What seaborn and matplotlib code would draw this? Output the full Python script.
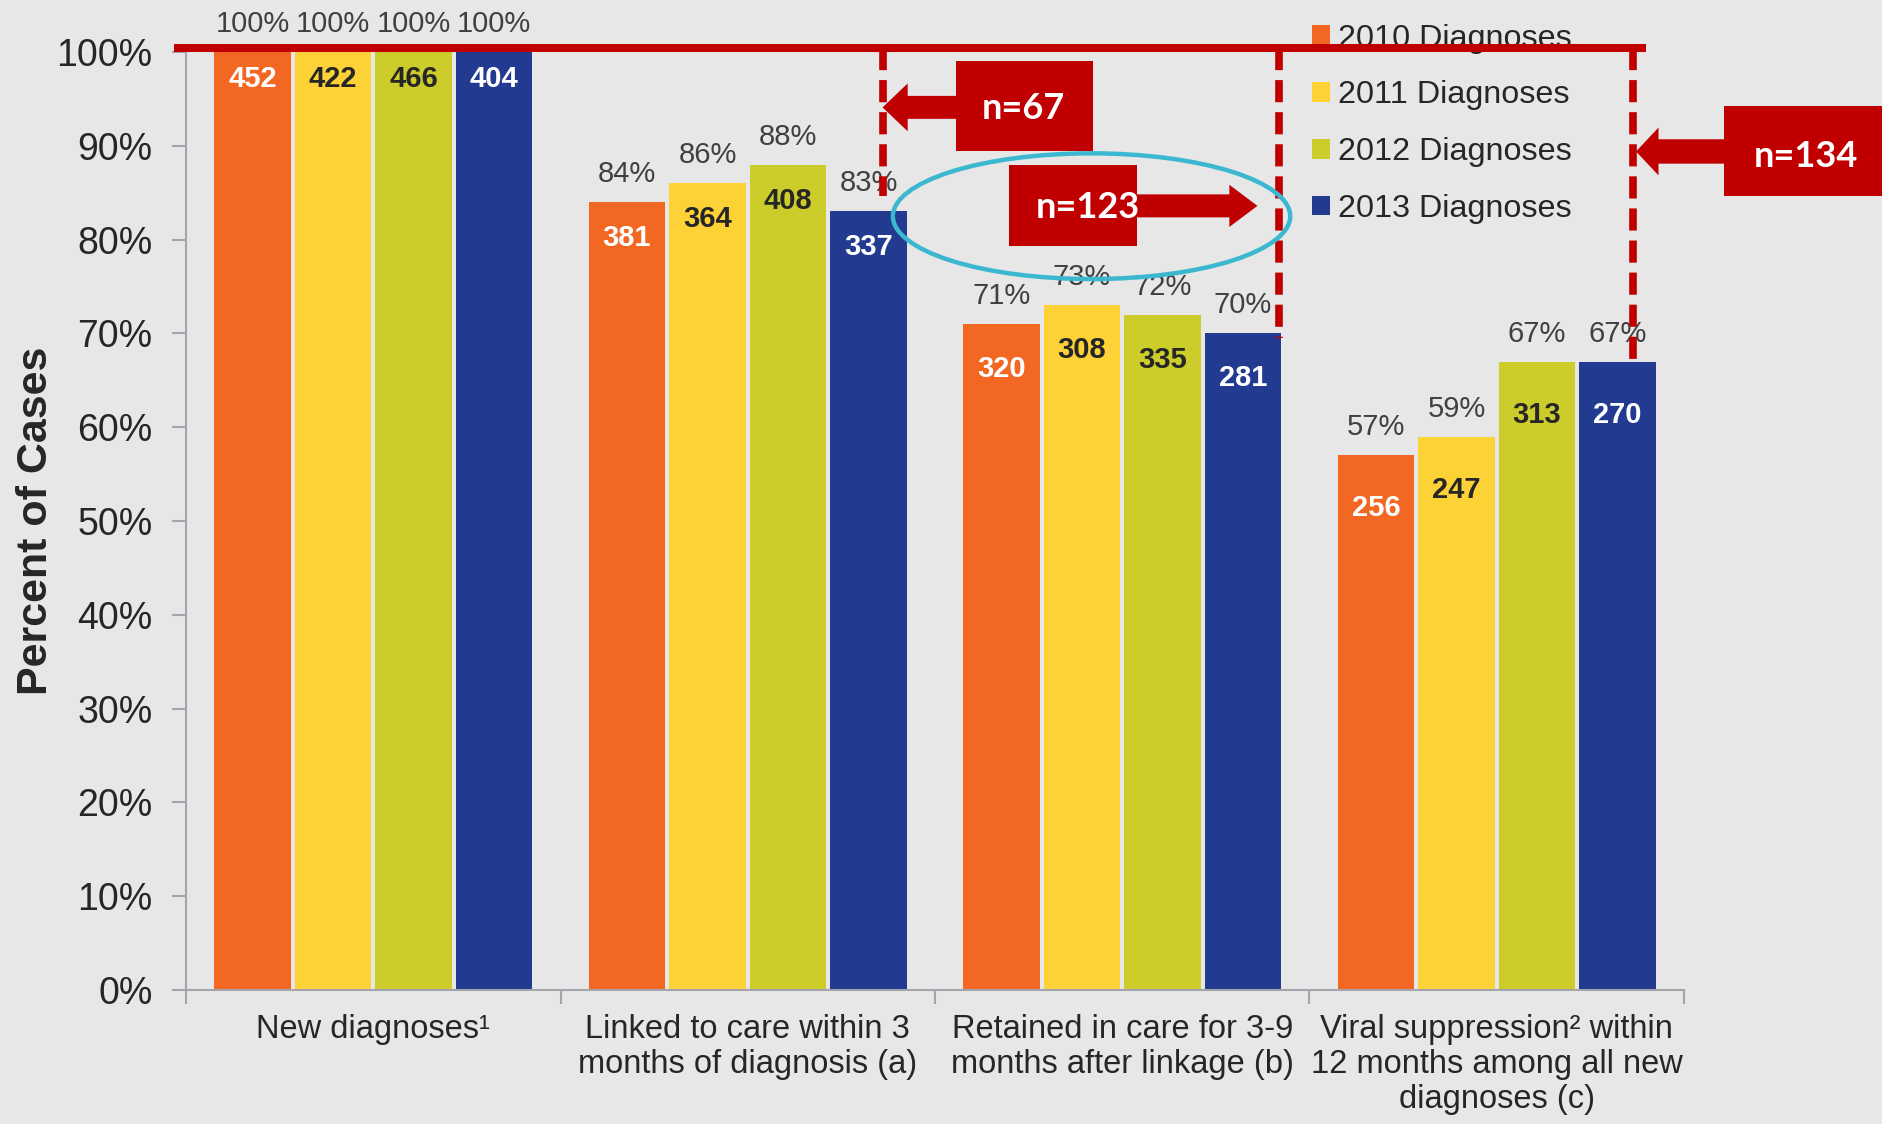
import matplotlib
matplotlib.use("Agg")
import matplotlib.pyplot as plt
from matplotlib.patches import Rectangle, Ellipse, FancyArrow
from matplotlib.ticker import MultipleLocator, FuncFormatter
import seaborn as sns
import pandas as pd

# ---- data -------------------------------------------------------------
stages = [
    "New diagnoses\u00b9",
    "Linked to care within 3\nmonths of diagnosis (a)",
    "Retained in care for 3-9\nmonths after linkage (b)",
    "Viral suppression\u00b2 within\n12 months among all new\ndiagnoses (c)",
]
years = ["2010 Diagnoses", "2011 Diagnoses", "2012 Diagnoses", "2013 Diagnoses"]

pct_2010 = [100, 84, 71, 57]
pct_2011 = [100, 86, 73, 59]
pct_2012 = [100, 88, 72, 67]
pct_2013 = [100, 83, 70, 67]

n_2010 = [452, 381, 320, 256]
n_2011 = [422, 364, 308, 247]
n_2012 = [466, 408, 335, 313]
n_2013 = [404, 337, 281, 270]

callout_labels = ["n=67", "n=123", "n=134"]

# ---- styling ----------------------------------------------------------
BG = "#E7E7E7"
RED = "#C00000"
CYAN = "#3BB7D0"
GRAY = "#A4A4AC"
TEXT = "#262626"
colors = ["#F26722", "#FDD236", "#CCCC2A", "#223A8F"]
count_colors = ["white", TEXT, TEXT, "white"]
# how far below each bar top the count sits (pixels), per stage
count_drop = [27, 36, 45, 53]

sns.set_style("white")
plt.rcParams["font.family"] = ["Liberation Sans", "DejaVu Sans"]

pcts = [pct_2010, pct_2011, pct_2012, pct_2013]
counts = [n_2010, n_2011, n_2012, n_2013]
rows = []
for yi, year in enumerate(years):
    for si, stage in enumerate(stages):
        rows.append({"stage": stage, "year": year,
                     "pct": pcts[yi][si], "n": counts[yi][si]})
df = pd.DataFrame(rows)

fig = plt.figure(figsize=(18.83, 11.24), dpi=100, facecolor=BG)
ax = fig.add_axes([0.0988, 0.1192, 0.7955, 0.8345])
ax.set_facecolor(BG)

sns.barplot(data=df, x="stage", y="pct", hue="year", order=stages,
            hue_order=years, palette=colors, saturation=1, width=0.86,
            gap=0.05, linewidth=0, ax=ax)

ax.set_xlim(-0.5, 3.5)
ax.set_ylim(0, 100)

# y axis
ax.yaxis.set_major_locator(MultipleLocator(10))
ax.yaxis.set_major_formatter(FuncFormatter(lambda v, _: f"{int(round(v))}%"))
ax.tick_params(axis="y", length=10, width=1.5, color=GRAY, pad=14,
               labelsize=27, labelcolor=TEXT, left=True)
ax.set_ylabel("Percent of Cases", fontsize=31, fontweight="bold", color=TEXT)
ax.yaxis.set_label_coords(-0.087, 0.5)

# x axis: boundary ticks, labels centred on the groups
ax.set_xticks([-0.5, 0.5, 1.5, 2.5, 3.5])
ax.set_xticklabels([])
ax.set_xticks(range(len(stages)), minor=True)
ax.set_xticklabels(stages, minor=True)
ax.tick_params(axis="x", which="major", length=10, width=1.5, color=GRAY,
               bottom=True)
ax.tick_params(axis="x", which="minor", length=0, pad=17, labelsize=23.5,
               labelcolor=TEXT)
for lbl in ax.get_xticklabels(minor=True):
    lbl.set_linespacing(1.17)
    lbl.set_multialignment("center")
ax.set_xlabel("")

for side in ["top", "right"]:
    ax.spines[side].set_visible(False)
for side in ["left", "bottom"]:
    ax.spines[side].set_color(GRAY)
    ax.spines[side].set_linewidth(1.5)

# value labels
for yi, cont in enumerate(ax.containers):
    for si, bar in enumerate(cont):
        xc = bar.get_x() + bar.get_width() / 2
        h = bar.get_height()
        ax.annotate(f"{pcts[yi][si]}%", (xc, h), xytext=(0, 28),
                    textcoords="offset pixels", ha="center", va="center",
                    fontsize=21, color="#404040", annotation_clip=False)
        ax.annotate(f"{counts[yi][si]}", (xc, h),
                    xytext=(0, -count_drop[si]),
                    textcoords="offset pixels", ha="center", va="center",
                    fontsize=21, fontweight="bold",
                    color=count_colors[yi])

# legend
sns.move_legend(ax, "upper left", bbox_to_anchor=(0.697, 0.979),
                bbox_transform=fig.transFigure, frameon=False, title=None,
                fontsize=23.3, handlelength=0.55, handleheight=0.55,
                handletextpad=0.25, labelspacing=0.83, borderaxespad=0,
                borderpad=0, labelcolor=TEXT)

# ---- call-outs ----------------------------------------------------------
ax.plot([-0.532, 3.398], [100.45, 100.45], color=RED, lw=5.8,
        solid_capstyle="butt", clip_on=False, zorder=10)
for xv, yend in [(1.360, 84.7), (2.419, 69.5), (3.365, 67.0)]:
    ax.plot([xv, xv], [100.4, yend], color=RED, lw=5.5,
            ls=(0, (2.9, 1.3)), dash_capstyle="butt",
            clip_on=False, zorder=9)

boxes = [
    (1.556, 89.4, 0.366, 9.6),
    (1.697, 79.3, 0.343, 8.7),
    (3.606, 84.6, 0.55, 9.6),
]
for (x0, y0, w, h) in boxes:
    ax.add_patch(Rectangle((x0, y0), w, h, facecolor=RED, edgecolor="none",
                           clip_on=False, zorder=11))

arrows = [
    (1.62, 94.1, 1.360 - 1.62, 2.45, 5.1, 0.067),
    (1.98, 83.6, 2.361 - 1.98, 2.45, 4.5, 0.075),
    (3.66, 89.4, 3.372 - 3.66, 2.6, 5.1, 0.06),
]
for (x0, y0, dx, sw, hw, hl) in arrows:
    ax.add_patch(FancyArrow(x0, y0, dx, 0, width=sw, head_width=hw,
                            head_length=hl, length_includes_head=True,
                            facecolor=RED, edgecolor="none", clip_on=False,
                            zorder=11))

ax.add_patch(Ellipse((1.918, 82.5), 1.061, 13.4, fill=False, edgecolor=CYAN,
                     lw=3.2, clip_on=False, zorder=12))

for label, (tx, ty) in zip(callout_labels,
                           [(1.737, 94.0), (1.907, 83.4), (3.827, 88.9)]):
    ax.text(tx, ty, label, color="white", fontsize=26, fontweight="bold",
            family=["Lato", "DejaVu Sans"], ha="center", va="center",
            zorder=13, clip_on=False)

fig.savefig("out.png", dpi=100, facecolor=BG)
